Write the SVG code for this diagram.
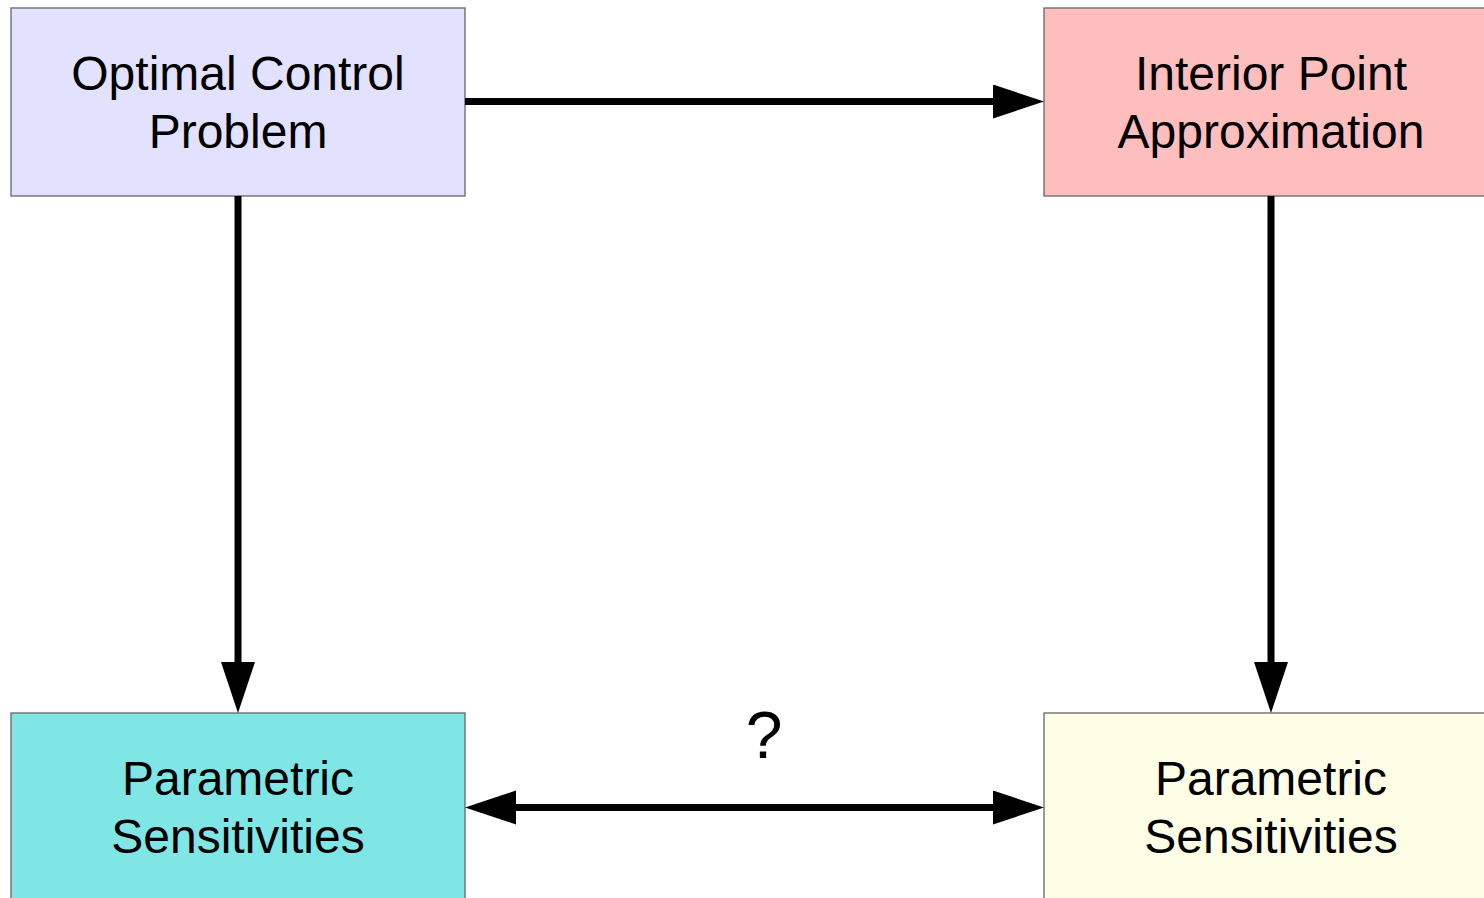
<svg xmlns="http://www.w3.org/2000/svg" width="1484" height="898" viewBox="0 0 1484 898">
<style>
.box{stroke:#666;stroke-width:1.3}
.lbl{font-family:"Liberation Sans",Arial,sans-serif;font-size:48px;fill:#000;text-anchor:middle}
.edge{stroke:#000;stroke-width:7;fill:none}
</style>
<defs>
<marker id="ah" markerUnits="userSpaceOnUse" markerWidth="52" markerHeight="36" viewBox="0 0 52 36" refX="1" refY="17" orient="auto-start-reverse">
<path d="M0,0 L51,17 L0,34 Z" fill="#000"/>
</marker>
</defs>
<rect width="1484" height="898" fill="#fff"/>
<g id="n_ocp">
<rect class="box" x="11" y="8" width="454" height="188" fill="#e2e2fe"/>
<text class="lbl" x="238" y="90">Optimal Control</text>
<text class="lbl" x="238" y="148">Problem</text>
</g>
<g id="n_ipa">
<rect class="box" x="1044" y="8" width="454" height="188" fill="#ffbebe"/>
<text class="lbl" x="1271" y="90">Interior Point</text>
<text class="lbl" x="1271" y="148">Approximation</text>
</g>
<g id="n_ps1">
<rect class="box" x="11" y="713" width="454" height="188" fill="#7fe5e5"/>
<text class="lbl" x="238" y="795">Parametric</text>
<text class="lbl" x="238" y="853">Sensitivities</text>
</g>
<g id="n_ps2">
<rect class="box" x="1044" y="713" width="454" height="188" fill="#fefee6"/>
<text class="lbl" x="1271" y="795">Parametric</text>
<text class="lbl" x="1271" y="853">Sensitivities</text>
</g>
<g id="connectors">
<line class="edge" x1="465" y1="101.5" x2="994" y2="101.5" marker-end="url(#ah)"/>
<line class="edge" x1="238" y1="196" x2="238" y2="663" marker-end="url(#ah)"/>
<line class="edge" x1="1271" y1="196" x2="1271" y2="663" marker-end="url(#ah)"/>
<line class="edge" x1="515" y1="807.5" x2="994" y2="807.5" marker-start="url(#ah)" marker-end="url(#ah)"/>
<text class="lbl" x="764" y="758" style="font-size:66px">?</text>
</g>
</svg>
